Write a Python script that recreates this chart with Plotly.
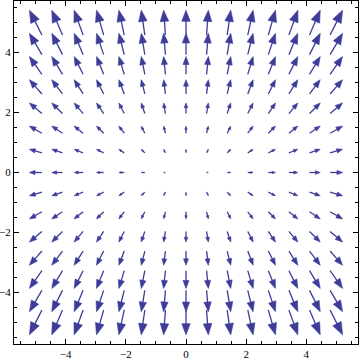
import numpy as np
import plotly.graph_objects as go

# sample points of the vector field (15 x 15 grid)
grid_x = [-5.0, -4.286, -3.571, -2.857, -2.143, -1.429, -0.714, 0.0,
          0.714, 1.429, 2.143, 2.857, 3.571, 4.286, 5.0]
grid_y = [-5.0, -4.286, -3.571, -2.857, -2.143, -1.429, -0.714, 0.0,
          0.714, 1.429, 2.143, 2.857, 3.571, 4.286, 5.0]
# field {x, 2 y}
u_coef = 1.0
v_coef = 2.0
tick_vals = [-4, -2, 0, 2, 4]

color = "rgb(61,61,153)"
scale = 0.083      # data units per unit of field magnitude
head_len = 0.45
head_half = 0.17

shaft_x, shaft_y, head_x, head_y = [], [], [], []
for y in grid_y:
    for x in grid_x:
        u, v = u_coef * x, v_coef * y
        m = np.hypot(u, v)
        if m < 1e-9:
            continue
        L = scale * m
        dx, dy = u / m, v / m
        tx, ty = x - dx * L / 2, y - dy * L / 2
        px, py = x + dx * L / 2, y + dy * L / 2
        bx, by = px - dx * head_len * L, py - dy * head_len * L
        nx, ny = -dy, dx
        h = head_half * L
        shaft_x += [tx, bx + dx * 0.05 * L, None]
        shaft_y += [ty, by + dy * 0.05 * L, None]
        head_x += [px, bx + nx * h, bx - nx * h, px, None]
        head_y += [py, by + ny * h, by - ny * h, py, None]

fig = go.Figure()
fig.add_trace(go.Scatter(x=shaft_x, y=shaft_y, mode="lines",
                         line=dict(color=color, width=1.3),
                         hoverinfo="skip", showlegend=False))
fig.add_trace(go.Scatter(x=head_x, y=head_y, mode="lines", fill="toself",
                         fillcolor=color, line=dict(color=color, width=0.6),
                         hoverinfo="skip", showlegend=False))

axis_common = dict(
    range=[-5.72, 5.72], showgrid=False, zeroline=False,
    showline=True, linecolor="black", linewidth=1, mirror="ticks",
    ticks="inside", ticklen=5, tickcolor="black", tickwidth=1,
    tickvals=tick_vals, ticktext=["\u22124", "\u22122", "0", "2", "4"],
    tickfont=dict(family="Liberation Serif, Times New Roman, serif", size=11, color="black"),
    minor=dict(ticks="inside", ticklen=3, dtick=0.5, tick0=0,
               tickcolor="black", tickwidth=1, showgrid=False),
    fixedrange=True,
)
fig.update_xaxes(**axis_common)
fig.update_yaxes(**axis_common)
fig.update_layout(
    width=360, height=360,
    margin=dict(l=14, r=2, t=1, b=16, autoexpand=False),
    paper_bgcolor="white", plot_bgcolor="white",
)
fig.write_html("out.html", config={"displayModeBar": False})
